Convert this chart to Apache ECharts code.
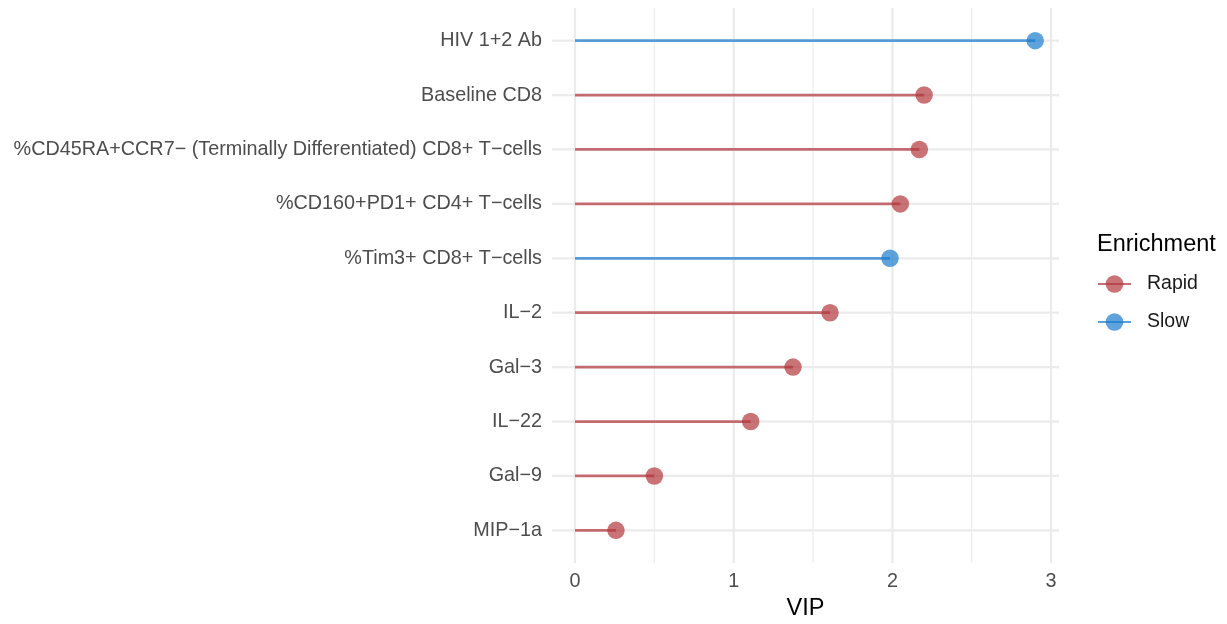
<!DOCTYPE html>
<html>
<head>
<meta charset="utf-8">
<script src="https://cdn.jsdelivr.net/npm/echarts@6/dist/echarts.min.js"></script>
<style>html,body{margin:0;padding:0;background:#fff;}#c{width:1227px;height:624px;}</style>
</head>
<body>
<div id="c"></div>
<script>
const categories = ['HIV 1+2 Ab','Baseline CD8','%CD45RA+CCR7\u2212 (Terminally Differentiated) CD8+ T\u2212cells','%CD160+PD1+ CD4+ T\u2212cells','%Tim3+ CD8+ T\u2212cells','IL\u22122','Gal\u22123','IL\u221222','Gal\u22129','MIP\u22121a'];
const vip = [2.90, 2.20, 2.17, 2.05, 1.985, 1.607, 1.374, 1.107, 0.50, 0.258];
const enrichment = ['Slow','Rapid','Rapid','Rapid','Slow','Rapid','Rapid','Rapid','Rapid','Rapid'];
const groups = ['Rapid','Slow'];
const groupColors = {Rapid:'#b2373d', Slow:'#1a7ccc'};
const xTicks = [0,1,2,3];
const xMinor = [0.5,1.5,2.5];
const xRange = [-0.145, 3.05];
const yRange = [-0.6, 9.6];

const FONT = 'Liberation Sans, Arial, sans-serif';
const chart = echarts.init(document.getElementById('c'), null, {renderer:'canvas'});

const series = [];
function gridLine(data, width){
  series.push({type:'line', data, silent:true, z:0, symbol:'none', showSymbol:false,
    lineStyle:{color:'#ebebeb', width}, emphasis:{disabled:true}, tooltip:{show:false}, animation:false});
}
categories.forEach((c,i)=>gridLine([[xRange[0],i],[xRange[1],i]], 2.2));
xTicks.forEach(v=>gridLine([[v,yRange[0]],[v,yRange[1]]], 2.2));
xMinor.forEach(v=>gridLine([[v,yRange[0]],[v,yRange[1]]], 1.1));

categories.forEach((c,i)=>{
  const g = enrichment[i];
  series.push({
    name:g, type:'line', z:3,
    data:[[0,i],[vip[i],i]],
    symbol:'circle',
    symbolSize:(val)=> val[0]===0 ? 0 : 17.5,
    showSymbol:true,
    itemStyle:{color:groupColors[g], opacity:0.7},
    lineStyle:{color:groupColors[g], width:2.8, opacity:0.72},
    emphasis:{disabled:true},
    animation:false
  });
});

chart.setOption({
  animation:false,
  backgroundColor:'#ffffff',
  grid:{left:552, right:168, top:8, bottom:61, containLabel:false, outerBoundsMode:'none'},
  title:{text:'Enrichment', left:1092, top:228, textStyle:{fontFamily:FONT, fontSize:23.5, fontWeight:'normal', color:'#000'}},
  legend:{
    data:groups, orient:'vertical', left:1092, top:269,
    itemWidth:33, itemHeight:22, itemGap:18,
    textStyle:{fontFamily:FONT, fontSize:19.5, color:'#1a1a1a', padding:[0,0,0,11]},
    selectedMode:false
  },
  xAxis:{
    type:'value', min:xRange[0], max:xRange[1],
    name:'VIP', nameLocation:'middle', nameGap:34,
    nameTextStyle:{fontFamily:FONT, fontSize:23.5, color:'#000'},
    axisLine:{show:false}, axisTick:{show:false}, splitLine:{show:false},
    axisLabel:{customValues:xTicks, fontFamily:FONT, fontSize:19.8, color:'#4d4d4d', margin:9}
  },
  yAxis:{
    type:'value', inverse:true, min:yRange[0], max:yRange[1],
    axisLine:{show:false}, axisTick:{show:false}, splitLine:{show:false},
    axisLabel:{customValues:categories.map((c,i)=>i), formatter:(v)=>categories[Math.round(v)] || '', fontFamily:FONT, fontSize:19.8, color:'#4d4d4d', margin:10}
  },
  series
});
</script>
</body>
</html>
